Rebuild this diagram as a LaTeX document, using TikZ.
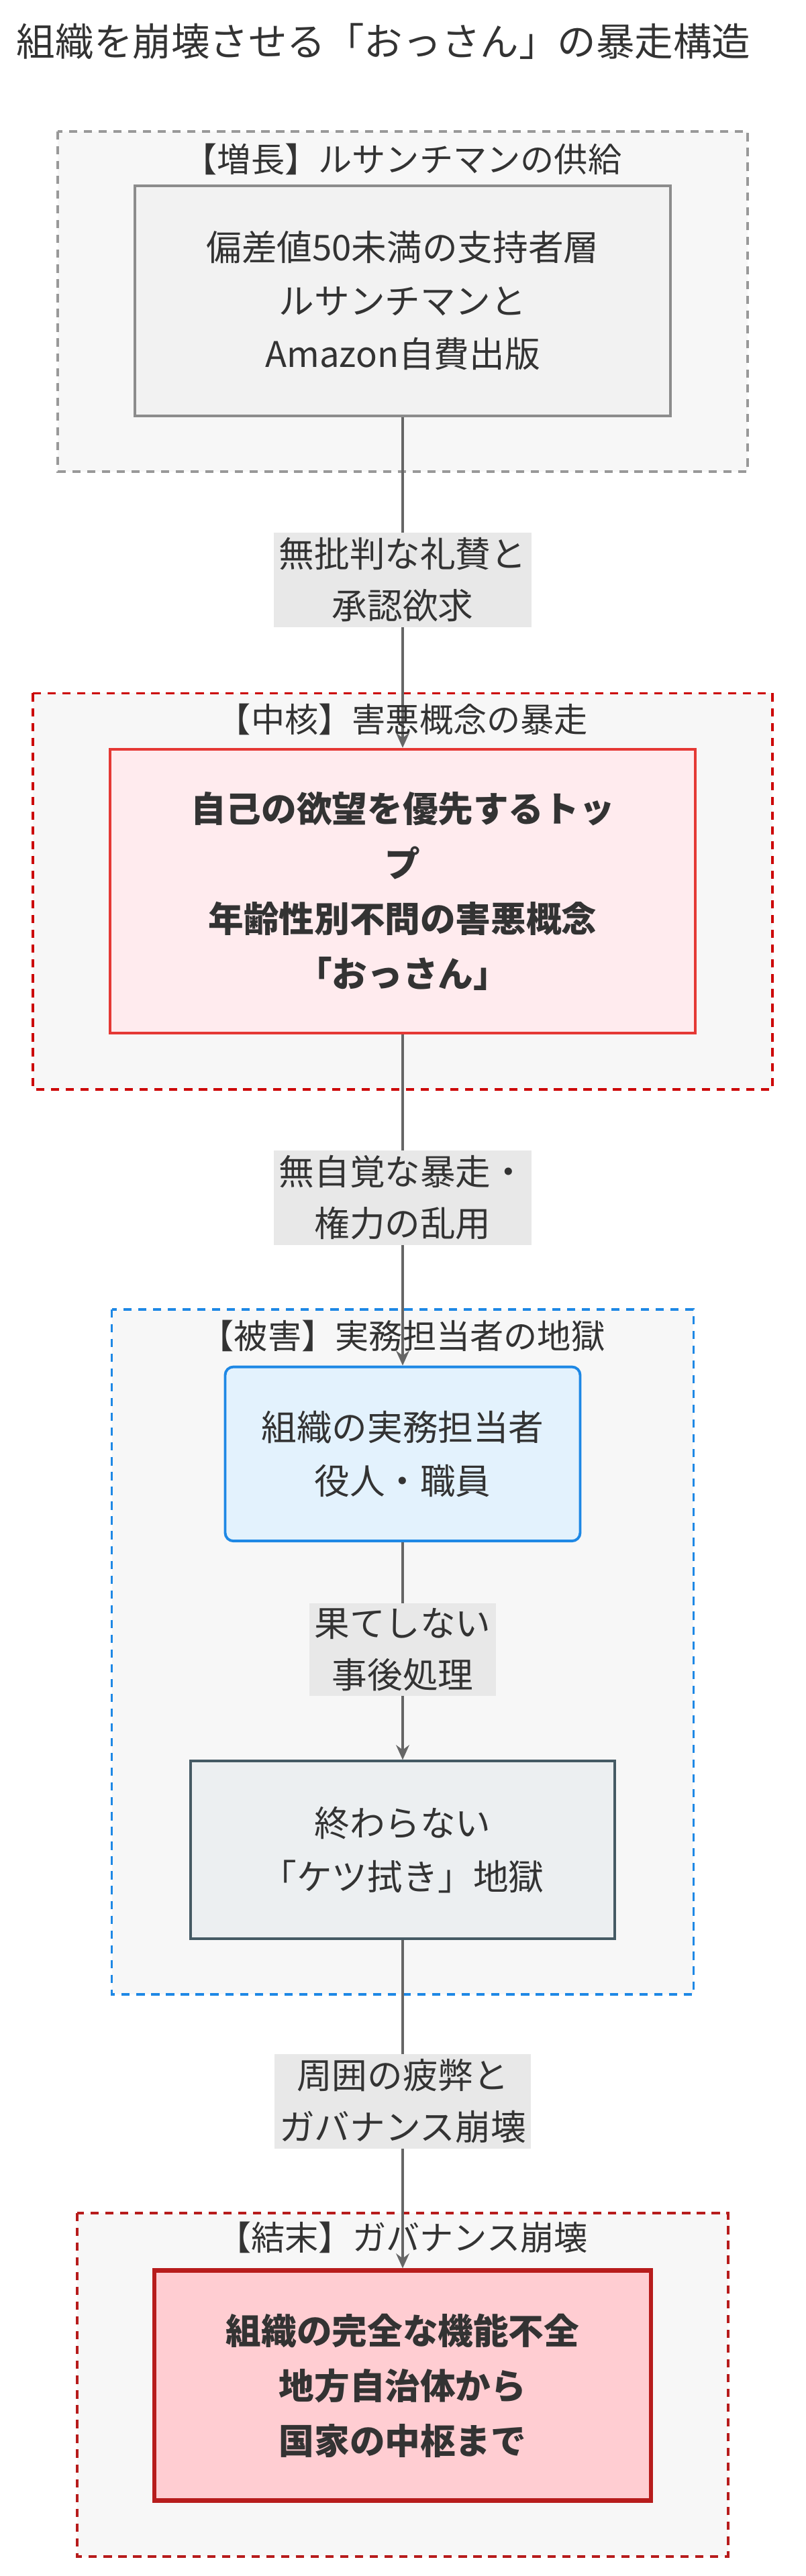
\documentclass[tikz,border=0pt]{standalone}
\usepackage{fontspec}
\setmainfont{Noto Sans CJK JP}
\usetikzlibrary{arrows.meta}
\definecolor{txt}{HTML}{333333}
\begin{document}
\begin{tikzpicture}[x=1pt,y=-1pt,
  clu/.style={draw, dashed, line width=1.6pt, fill=black!3, dash pattern=on 5pt off 4pt},
  box/.style={draw, line width=1.6pt, align=center, text=txt, font=\fontsize{21.5}{32.5}\selectfont},
  elab/.style={fill=black!9, align=center, text=txt, font=\fontsize{21.5}{31.5}\selectfont, inner sep=3pt},
  clab/.style={text=txt, font=\fontsize{20.5}{24}\selectfont},
  edge/.style={draw=black!60, line width=1.6pt, -{Stealth[length=9pt,width=8pt]}}]
\useasboundingbox (0,0) rectangle (490.2,1568);
\fill[white] (0,0) rectangle (490.2,1568);
\node[text=txt, font=\fontsize{23.5}{26}\selectfont, anchor=west, inner sep=0pt] (title) at (10,25) {組織を崩壊させる「おっさん」の暴走構造};
% clusters
\draw[clu, draw=black!40] (35,80) rectangle (455,287);
\draw[clu, draw=red!80!black] (20,422) rectangle (470,663);
\draw[clu, draw={rgb,255:red,30;green,136;blue,229}] (68,797) rectangle (422,1214);
\draw[clu, draw={rgb,255:red,183;green,28;blue,28}] (47,1347) rectangle (443,1556);
% nodes
\node[box, draw=black!45, fill=black!5, minimum width=326, minimum height=140] (n1) at (245,183) {偏差値50未満の支持者層\\ルサンチマンと\\Amazon自費出版};
\node[box, draw={rgb,255:red,229;green,57;blue,53}, fill={rgb,255:red,255;green,235;blue,238}, minimum width=356, minimum height=173, font=\bfseries\fontsize{21.5}{33.5}\selectfont] (n2) at (245,542.5) {自己の欲望を優先するトッ\\プ\\年齢性別不問の害悪概念\\「おっさん」};
\node[box, draw={rgb,255:red,30;green,136;blue,229}, fill={rgb,255:red,227;green,242;blue,253}, rounded corners=5pt, minimum width=216, minimum height=106] (n3) at (245,885) {組織の実務担当者\\役人・職員};
\node[box, draw={rgb,255:red,69;green,90;blue,100}, fill={rgb,255:red,236;green,239;blue,241}, minimum width=258, minimum height=108] (n4) at (245,1126) {終わらない\\「ケツ拭き」地獄};
\node[box, draw={rgb,255:red,183;green,28;blue,28}, line width=2.6pt, fill={rgb,255:red,255;green,205;blue,210}, minimum width=302, minimum height=140, font=\bfseries\fontsize{21.5}{33.5}\selectfont] (n5) at (245,1452) {組織の完全な機能不全\\地方自治体から\\国家の中枢まで};
% edges
\draw[edge] (n1.south) -- (n2.north);
\draw[edge] (n2.south) -- (n3.north);
\draw[edge] (n3.south) -- (n4.north);
\draw[edge] (n4.south) -- (n5.north);
\node[elab] (e1) at (245,353) {無批判な礼賛と\\承認欲求};
\node[elab] (e2) at (245,729) {無自覚な暴走・\\権力の乱用};
\node[elab] (e3) at (245,1004) {果てしない\\事後処理};
\node[elab] (e4) at (245,1279) {周囲の疲弊と\\ガバナンス崩壊};
% cluster labels
\node[clab] (c1) at (245,97) {【増長】ルサンチマンの供給};
\node[clab] (c2) at (245,438) {【中核】害悪概念の暴走};
\node[clab] (c3) at (245,813) {【被害】実務担当者の地獄};
\node[clab] (c4) at (245,1362) {【結末】ガバナンス崩壊};
\end{tikzpicture}
\end{document}
